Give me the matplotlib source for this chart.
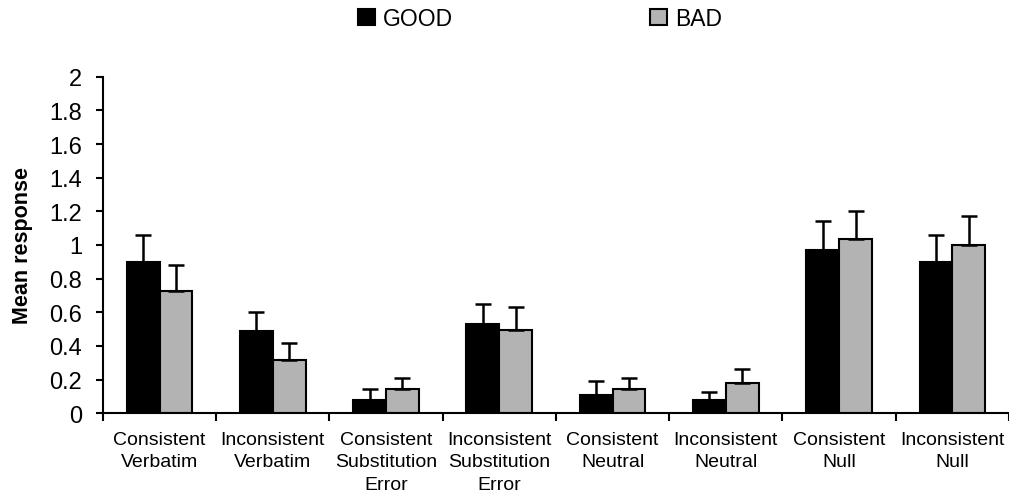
import matplotlib.pyplot as plt
import numpy as np

plt.rcParams['font.family'] = ['Liberation Sans', 'DejaVu Sans']

categories = ["Consistent\nVerbatim", "Inconsistent\nVerbatim",
              "Consistent\nSubstitution\nError", "Inconsistent\nSubstitution\nError",
              "Consistent\nNeutral", "Inconsistent\nNeutral",
              "Consistent\nNull", "Inconsistent\nNull"]
good = [0.90, 0.49, 0.08, 0.53, 0.11, 0.08, 0.97, 0.90]
good_err = [0.16, 0.11, 0.065, 0.12, 0.08, 0.045, 0.17, 0.16]
bad = [0.725, 0.315, 0.145, 0.495, 0.145, 0.18, 1.035, 1.0]
bad_err = [0.155, 0.105, 0.065, 0.135, 0.065, 0.08, 0.165, 0.175]
yticks = [0, 0.2, 0.4, 0.6, 0.8, 1, 1.2, 1.4, 1.6, 1.8, 2]
ytick_labels = ["0", "0.2", "0.4", "0.6", "0.8", "1", "1.2", "1.4", "1.6", "1.8", "2"]

fig = plt.figure(figsize=(10.09, 5.02), dpi=100)
ax = fig.add_axes([0.102, 0.175, 0.898, 0.67])

x = np.arange(len(categories))
w = 0.29
err_kw = dict(ecolor='black', elinewidth=1.8, capsize=6, capthick=1.8)
ax.bar(x - w/2, good, w, color='black', edgecolor='black', linewidth=1.5,
       yerr=[np.zeros(len(good)), good_err], error_kw=err_kw, label='GOOD')
ax.bar(x + w/2, bad, w, color='#b3b3b3', edgecolor='black', linewidth=1.5,
       yerr=[np.zeros(len(bad)), bad_err], error_kw=err_kw, label='BAD')

ax.set_xlim(-0.5, len(categories) - 0.5)
ax.set_ylim(0, 2)
ax.set_yticks(yticks)
ax.set_yticklabels(ytick_labels, fontsize=17)
ax.set_xticks(np.arange(len(categories) + 1) - 0.5)
ax.set_xticklabels([])
ax.set_xticks(x, minor=True)
ax.set_xticklabels(categories, minor=True, fontsize=14, linespacing=1.4)
ax.tick_params(axis='x', which='minor', length=0, pad=13)
ax.tick_params(axis='x', which='major', length=6, width=1.5, direction='out')
ax.tick_params(axis='y', length=5, width=1.5, direction='out', pad=10)
for s in ['top', 'right']:
    ax.spines[s].set_visible(False)
for s in ['left', 'bottom']:
    ax.spines[s].set_linewidth(1.5)

ax.set_ylabel('Mean response', fontsize=15.5, fontweight='bold', labelpad=12)

fig.legend(loc='upper center', bbox_to_anchor=(0.535, 1.025), ncol=2, frameon=False,
           fontsize=16.5, handlelength=0.75, handleheight=0.75, handletextpad=0.35,
           columnspacing=8.6)

fig.savefig('out.png', dpi=100)
